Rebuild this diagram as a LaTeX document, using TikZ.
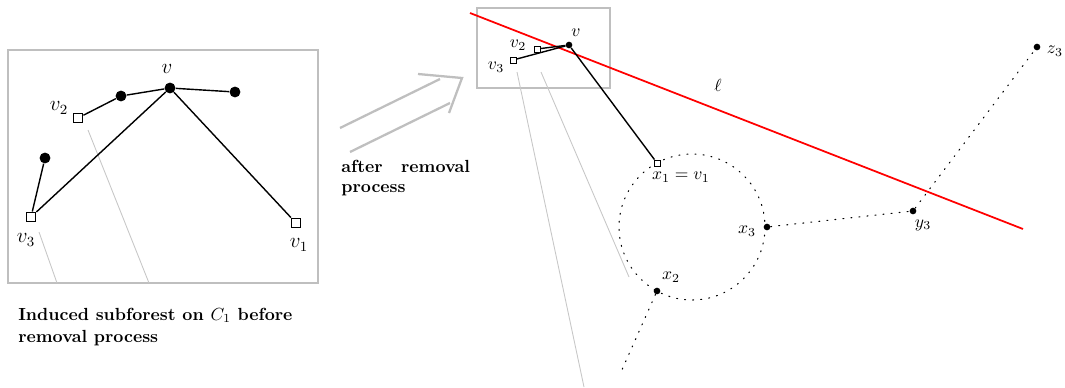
\documentclass[tikz,border=0pt]{standalone}
\begin{document}
\begin{tikzpicture}[x=0.57pt,y=-0.57pt,
  bigdot/.style={circle,fill=black,inner sep=0pt,minimum size=6.2pt},
  smalldot/.style={circle,fill=black,inner sep=0pt,minimum size=3.8pt},
  bigsq/.style={rectangle,draw=black,fill=white,line width=0.8pt,inner sep=0pt,minimum size=5.4pt},
  smallsq/.style={rectangle,draw=black,fill=white,line width=0.5pt,inner sep=0pt,minimum size=3.4pt},
  edge/.style={line width=0.8pt,black},
  panel/.style={draw=black!25,line width=1.2pt},
  guide/.style={black!22,line width=0.5pt},
  dots/.style={line width=0.6pt,dash pattern=on 0.6pt off 4pt,line cap=round},
  bigarrow/.style={black!25,line width=1.3pt},
  biglbl/.style={font=\large,inner sep=0pt},
  lbl/.style={font=\normalsize,inner sep=0pt},
  capt/.style={font=\bfseries,inner sep=0pt,anchor=base west}]
\useasboundingbox (0,0) rectangle (1065,387);

% ---------- left panel ----------
\draw[panel] (8,50) rectangle (318,283);
\draw[guide] (88,130) -- (149,283);
\draw[guide] (39,232) -- (57,283);

\node[bigdot] (Lv) at (170,88) {};
\node[bigdot] (La) at (121,96) {};
\node[bigdot] (Lb) at (235,92) {};
\node[bigdot] (Lc) at (45,158) {};
\node[bigsq] (Lv2) at (78,118) {};
\node[bigsq] (Lv3) at (31,217) {};
\node[bigsq] (Lv1) at (296,223) {};

\draw[edge] (Lv2) -- (La) -- (Lv) -- (Lb);
\draw[edge] (Lv) -- (Lv3);
\draw[edge] (Lv) -- (Lv1);
\draw[edge] (Lv3) -- (Lc);

\node[biglbl] (tLv) at (167,69) {$v$};
\node[biglbl] (tLv2) at (59,108) {$v_2$};
\node[biglbl] (tLv3) at (26,240) {$v_3$};
\node[biglbl] (tLv1) at (299,245) {$v_1$};

\node[capt] (cap1) at (18,320) {Induced subforest on $C_1$ before};
\node[capt] (cap2) at (18,342) {removal process};

% ---------- big arrow ----------
\coordinate (a1s) at (340,128); \coordinate (a1e) at (440,79);
\coordinate (a2s) at (350,152); \coordinate (a2e) at (450,103);
\coordinate (h1) at (418,74); \coordinate (ht) at (462,78); \coordinate (h2) at (449,113);
\draw[bigarrow] (a1s) -- (a1e);
\draw[bigarrow] (a2s) -- (a2e);
\draw[bigarrow,line join=miter] (h1) -- (ht) -- (h2);

\node[capt] (arr1) at (341,172) {after\hspace{1.05em}removal};
\node[capt] (arr2) at (341,192) {process};

% ---------- right panel ----------
\draw[panel] (477,8) rectangle (610,88);
\draw[guide] (517,72) -- (584,387);
\draw[guide] (541,72) -- (629,277);

\coordinate (r1) at (470,13);
\coordinate (r2) at (1023,229);
\draw[red,line width=1pt] (r1) -- (r2);
\node[lbl] (tl) at (718,85) {$\ell$};

\draw[dots] (692,227) circle[radius=73];

\node[smalldot] (Rv) at (569,45) {};
\node[smallsq] (Rv2) at (537,49) {};
\node[smallsq] (Rv3) at (513,60) {};
\node[smallsq] (x1) at (657,163) {};
\node[smalldot] (x2) at (657,291) {};
\node[smalldot] (x3) at (767,227) {};
\node[smalldot] (y3) at (913,211) {};
\node[smalldot] (z3) at (1037,47) {};
\coordinate (x2end) at (621,372);

\draw[edge] (Rv3) -- (Rv);
\draw[edge] (Rv2) -- (Rv);
\draw[edge] (Rv) -- (x1);

\draw[dots] (x2) -- (x2end);
\draw[dots] (x3) -- (y3);
\draw[dots] (y3) -- (z3);

\node[lbl] (tRv) at (576,33) {$v$};
\node[lbl] (tRv2) at (518,45) {$v_2$};
\node[lbl] (tRv3) at (496,67) {$v_3$};
\node[lbl] (tx1) at (681,177) {$x_1=v_1$};
\node[lbl] (tx2) at (671,277) {$x_2$};
\node[lbl] (tx3) at (747,231) {$x_3$};
\node[lbl] (ty3) at (923,225) {$y_3$};
\node[lbl] (tz3) at (1055,51) {$z_3$};
\end{tikzpicture}
\end{document}
